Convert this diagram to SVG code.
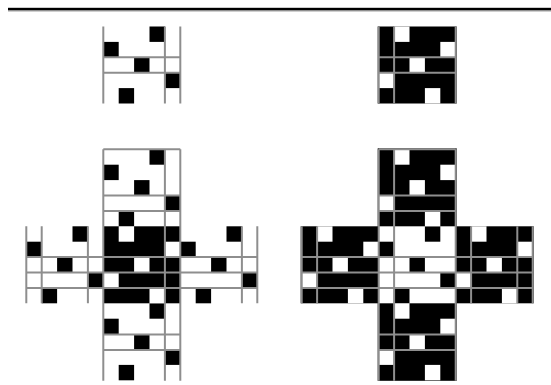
<svg xmlns="http://www.w3.org/2000/svg" xmlns:xlink="http://www.w3.org/1999/xlink" width="551" height="385" viewBox="0 0 551 385">
  <style>
    .g{fill:none;stroke:#8e8e8e;stroke-width:2}
  </style>
  <defs>
    <g id="P">
      <rect x="46.2" y="0" width="15.4" height="15.4"/>
      <rect x="0" y="15.4" width="15.4" height="15.4"/>
      <rect x="30.8" y="30.8" width="15.4" height="15.4"/>
      <rect x="61.6" y="46.2" width="15.4" height="15.4"/>
      <rect x="15.4" y="61.6" width="15.4" height="15.4"/>
    </g>
    <g id="M">
      <rect x="15.4" y="0" width="15.4" height="15.4"/>
      <rect x="61.6" y="15.4" width="15.4" height="15.4"/>
      <rect x="30.8" y="30.8" width="15.4" height="15.4"/>
      <rect x="0" y="46.2" width="15.4" height="15.4"/>
      <rect x="46.2" y="61.6" width="15.4" height="15.4"/>
    </g>
    <path id="smallLines" class="g" d="M103.3 26.5V103.5M164.9 26.5V103.5M180.3 26.5V103.5M103.3 57.3H180.3M103.3 72.7H180.3"/>
    <path id="crossLines" class="g" d="M103.3 149.3V380.8M164.9 149.3V380.8M180.3 149.3V380.8M103.3 149.3H180.3M103.3 195.5H180.3M103.3 210.9H180.3M26.3 257.1H257.3M26.3 272.5H257.3M26.3 287.9H257.3M26.3 226.3V303.3M41.7 226.3V303.3M87.9 226.3V303.3M241.9 226.3V303.3M257.3 226.3V303.3M103.3 334.6H180.3M103.3 350H180.3"/>
  </defs>

  <g id="rule">
    <rect x="8" y="7.8" width="543" height="2.7" fill="#000"/>
    <rect x="8" y="10.5" width="543" height="1" fill="#a0a0a0"/>
  </g>

  <g id="small-left">
    <use xlink:href="#P" x="103.3" y="26.5" fill="#000"/>
    <use xlink:href="#smallLines"/>
  </g>

  <g id="small-right" transform="translate(559,0) scale(-1,1)">
    <rect x="102.3" y="26.5" width="79" height="77" fill="#000"/>
    <use xlink:href="#P" x="103.3" y="26.5" fill="#fff"/>
    <use xlink:href="#smallLines"/>
  </g>

  <g id="cross-left">
    <use xlink:href="#P" x="103.3" y="149.3" fill="#000"/>
    <use xlink:href="#P" x="26.3" y="226.3" fill="#000"/>
    <use xlink:href="#P" x="180.3" y="226.3" fill="#000"/>
    <use xlink:href="#P" x="103.3" y="303.3" fill="#000"/>
    <rect x="103.3" y="226.3" width="77" height="77" fill="#000"/>
    <use xlink:href="#M" x="103.3" y="226.3" fill="#fff"/>
    <use xlink:href="#crossLines"/>
  </g>

  <g id="cross-right" transform="translate(559,0) scale(-1,1)">
    <rect x="102.3" y="148.3" width="79" height="232.5" fill="#000"/>
    <rect x="25.3" y="226.3" width="233" height="77" fill="#000"/>
    <rect x="103.3" y="226.3" width="77" height="77" fill="#fff"/>
    <use xlink:href="#M" x="103.3" y="226.3" fill="#000"/>
    <use xlink:href="#P" x="103.3" y="149.3" fill="#fff"/>
    <use xlink:href="#P" x="26.3" y="226.3" fill="#fff"/>
    <use xlink:href="#P" x="180.3" y="226.3" fill="#fff"/>
    <use xlink:href="#P" x="103.3" y="303.3" fill="#fff"/>
    <use xlink:href="#crossLines"/>
  </g>
</svg>
